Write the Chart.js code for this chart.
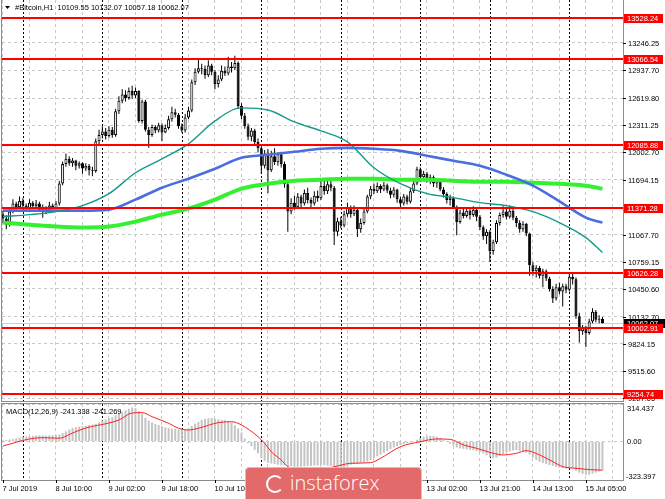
<!DOCTYPE html>
<html>
<head>
<meta charset="utf-8">
<script src="https://cdn.jsdelivr.net/npm/chart.js@4.4.1/dist/chart.umd.min.js"></script>
<style>
  html, body { margin: 0; padding: 0; background: #fff; }
  #wrap { position: relative; width: 665px; height: 499px; overflow: hidden; }
  #priceChart { position: absolute; left: 0; top: 0; }
  #macdChart { position: absolute; left: 0; top: 402px; }
  #logo { position: absolute; left: 245px; top: 467px; width: 177px; height: 40px; box-sizing: border-box;
          background: #e26a6a; border: 1px solid #f2b4b4; border-radius: 4px; }
  #logo .ring { position: absolute; left: 20px; top: 7px; width: 14px; height: 14px; border: 2px solid #fff;
                border-right-color: transparent; border-radius: 50%; }
  #logo span { position: absolute; left: 44px; top: 1px; font: 300 20px "Open Sans"; color: #fff; }
</style>
</head>
<body>
<div id="wrap">
  <canvas id="priceChart" width="665" height="402"></canvas>
  <canvas id="macdChart" width="665" height="97"></canvas>
  <div id="logo"><div class="ring"></div><span>instaforex</span></div>
</div>
<script>
// Bitcoin H1, 182 bars (7 Jul 18:00 .. 15 Jul 10:00)
const tickLabels = ["7 Jul 2019", "8 Jul 10:00", "9 Jul 02:00", "9 Jul 18:00", "10 Jul 10:00", "11 Jul 02:00",
  "11 Jul 18:00", "12 Jul 10:00", "13 Jul 02:00", "13 Jul 21:00", "14 Jul 13:00", "15 Jul 05:00"];
const tickBars = [0, 16, 32, 48, 64, 80, 96, 112, 128, 144, 160, 176];
const daySeparators = [6, 30, 54, 78, 102, 126, 147, 171];
const priceTicks = [13246.25, 12937.70, 12619.80, 12311.25, 12002.70, 11694.15, 11067.70, 10759.15,
  10450.60, 10132.70, 9824.15, 9515.60, 9207.05];
const levels = [13528.24, 13066.54, 12085.88, 11371.28, 10626.28, 10002.91, 9254.74];
const lastPrice = 10062.07;

const open = [
  11300, 11250, 11180, 11330, 11420, 11380, 11450, 11400, 11360, 11430,
  11390, 11420, 11350, 11380, 11340, 11400, 11370, 11420, 11650, 11870,
  11930, 11880, 11910, 11850, 11880, 11820, 11850, 11800, 11790, 12130,
  12200, 12240, 12190, 12260, 12200, 12470, 12590, 12660, 12620, 12700,
  12650, 12700, 12360, 12580, 12260, 12200, 12290, 12250, 12310, 12230,
  12280, 12380, 12460, 12430, 12300, 12250, 12400, 12480, 12800, 12920,
  12960, 12950, 12880, 12990, 12920, 12780, 12830, 12930, 12900, 12980,
  12960, 13020, 12530, 12420, 12300, 12180, 12250, 12120, 12050, 11850,
  11990, 11800, 11960, 11890, 11980, 11870, 11640, 11330, 11430, 11380,
  11500, 11420, 11540, 11460, 11420, 11510, 11480, 11620, 11560, 11640,
  11600, 11100, 11220, 11170, 11300, 11380, 11300, 11350, 11130, 11200,
  11330, 11500, 11590, 11560, 11620, 11580, 11630, 11570, 11520, 11580,
  11470, 11420, 11500, 11440, 11560, 11650, 11810, 11720, 11760, 11690,
  11720, 11650, 11680, 11580, 11530, 11460, 11480, 11380, 11210, 11320,
  11280, 11340, 11290, 11350, 11270, 11150, 11050, 11100, 10880, 10980,
  11200, 11290, 11330, 11270, 11340, 11260, 11200, 11130, 11190, 11080,
  10720, 10650, 10690, 10600, 10650, 10570, 10450, 10340, 10470, 10420,
  10480, 10440, 10590, 10560, 10140, 9970, 10010, 9950, 10080, 10190,
  10100, 10109.55];
const high = [
  11340, 11290, 11360, 11470, 11440, 11500, 11480, 11420, 11470, 11450,
  11460, 11440, 11410, 11390, 11440, 11420, 11450, 11680, 11900, 11990,
  11960, 11940, 11920, 11900, 11890, 11880, 11870, 11840, 12160, 12260,
  12300, 12280, 12300, 12290, 12500, 12640, 12720, 12710, 12740, 12760,
  12740, 12710, 12600, 12600, 12290, 12320, 12310, 12340, 12330, 12320,
  12420, 12520, 12500, 12450, 12330, 12440, 12520, 12830, 12960, 13060,
  13010, 12990, 13050, 13010, 12940, 12880, 12990, 12980, 13090, 13030,
  13100, 13040, 12560, 12450, 12330, 12280, 12270, 12160, 12090, 12030,
  12040, 12020, 12050, 12000, 12010, 11900, 11660, 11480, 11510, 11540,
  11520, 11580, 11600, 11490, 11560, 11570, 11680, 11690, 11700, 11680,
  11620, 11260, 11270, 11340, 11430, 11400, 11400, 11360, 11250, 11360,
  11520, 11620, 11650, 11660, 11640, 11670, 11650, 11600, 11610, 11590,
  11500, 11530, 11520, 11600, 11700, 11840, 11830, 11790, 11780, 11750,
  11740, 11710, 11700, 11610, 11550, 11520, 11500, 11400, 11350, 11370,
  11380, 11360, 11390, 11370, 11290, 11170, 11130, 11120, 11010, 11230,
  11320, 11390, 11360, 11400, 11370, 11280, 11230, 11220, 11200, 11090,
  10760, 10720, 10710, 10680, 10670, 10590, 10480, 10510, 10520, 10510,
  10510, 10640, 10630, 10580, 10180, 10040, 10030, 10110, 10230, 10210,
  10150, 10132.07];
const low = [
  11200, 11130, 11160, 11310, 11350, 11360, 11380, 11330, 11340, 11370,
  11360, 11330, 11260, 11300, 11320, 11350, 11360, 11400, 11630, 11840,
  11850, 11840, 11800, 11820, 11760, 11790, 11740, 11730, 11770, 12090,
  12160, 12150, 12170, 12170, 12180, 12440, 12560, 12580, 12600, 12610,
  12620, 12340, 12330, 12240, 12055, 12180, 12220, 12230, 12130, 12220,
  12260, 12350, 12400, 12270, 12230, 12230, 12380, 12460, 12770, 12900,
  12890, 12840, 12860, 12880, 12720, 12740, 12810, 12870, 12880, 12910,
  12940, 12500, 12380, 12270, 12140, 12130, 12080, 12000, 11760, 11820,
  11540, 11780, 11860, 11850, 11830, 11600, 11100, 11300, 11350, 11360,
  11380, 11400, 11420, 11370, 11400, 11440, 11460, 11520, 11530, 11560,
  10950, 11050, 11140, 11150, 11270, 11260, 11280, 11040, 11090, 11180,
  11310, 11470, 11530, 11540, 11540, 11560, 11540, 11480, 11490, 11430,
  11370, 11400, 11410, 11420, 11540, 11630, 11690, 11680, 11660, 11640,
  11610, 11600, 11560, 11490, 11420, 11400, 11360, 11060, 11190, 11250,
  11260, 11240, 11270, 11220, 11120, 11010, 10960, 10760, 10840, 10960,
  11170, 11260, 11240, 11250, 11230, 11150, 11090, 11100, 11050, 10600,
  10600, 10580, 10570, 10470, 10540, 10420, 10290, 10320, 10390, 10250,
  10400, 10420, 10500, 10110, 9840, 9930, 9790, 9930, 10060, 10070,
  10060, 10057.18];
const close = [
  11250, 11180, 11330, 11420, 11380, 11450, 11400, 11360, 11430, 11390,
  11420, 11350, 11380, 11340, 11400, 11370, 11420, 11650, 11870, 11930,
  11880, 11910, 11850, 11880, 11820, 11850, 11800, 11790, 12130, 12200,
  12240, 12190, 12260, 12200, 12470, 12590, 12660, 12620, 12700, 12650,
  12700, 12360, 12580, 12260, 12200, 12290, 12250, 12310, 12230, 12280,
  12380, 12460, 12430, 12300, 12250, 12400, 12480, 12800, 12920, 12960,
  12950, 12880, 12990, 12920, 12780, 12830, 12930, 12900, 12980, 12960,
  13020, 12530, 12420, 12300, 12180, 12250, 12120, 12050, 11850, 11990,
  11800, 11960, 11890, 11980, 11870, 11640, 11330, 11430, 11380, 11500,
  11420, 11540, 11460, 11420, 11510, 11480, 11620, 11560, 11640, 11600,
  11100, 11220, 11170, 11300, 11380, 11300, 11350, 11130, 11200, 11330,
  11500, 11590, 11560, 11620, 11580, 11630, 11570, 11520, 11580, 11470,
  11420, 11500, 11440, 11560, 11650, 11810, 11720, 11760, 11690, 11720,
  11650, 11680, 11580, 11530, 11460, 11480, 11380, 11210, 11320, 11280,
  11340, 11290, 11350, 11270, 11150, 11050, 11100, 10880, 10980, 11200,
  11290, 11330, 11270, 11340, 11260, 11200, 11130, 11190, 11080, 10720,
  10650, 10690, 10600, 10650, 10570, 10450, 10340, 10470, 10420, 10480,
  10440, 10590, 10560, 10140, 9970, 10010, 9950, 10080, 10190, 10100,
  10110, 10062.07];

// moving averages, read every 8 bars
const maBars = [0, 8, 16, 24, 32, 40, 48, 56, 64, 72, 80, 88, 96, 104, 112, 120, 128, 136, 144, 152, 160, 168, 176, 181];
const maTeal = [11272, 11295, 11329, 11397, 11533, 11771, 11930, 12100, 12360, 12508, 12485, 12349,
  12247, 12122, 11828, 11646, 11533, 11488, 11431, 11397, 11329, 11204, 11034, 10864];
const maBlue = [11340, 11340, 11340, 11340, 11352, 11465, 11601, 11703, 11816, 11941, 11975, 12009,
  12043, 12054, 12043, 12020, 11964, 11907, 11850, 11748, 11624, 11446, 11261, 11204];
const maGreen = [11204, 11181, 11159, 11148, 11159, 11215, 11295, 11363, 11465, 11590, 11646, 11680,
  11692, 11703, 11703, 11692, 11692, 11680, 11669, 11669, 11658, 11646, 11624, 11590];

// MACD(12,26,9)
const macdHist = [
  8, 12, 16, 20, 26, 32, 38, 42, 45, 48,
  50, 52, 50, 48, 50, 52, 54, 58, 70, 85,
  100, 112, 120, 125, 128, 132, 138, 142, 148, 160,
  175, 185, 195, 205, 220, 235, 250, 262, 275, 285,
  280, 255, 230, 200, 175, 160, 148, 138, 128, 118,
  112, 108, 104, 100, 98, 100, 110, 130, 150, 165,
  180, 188, 195, 198, 190, 185, 180, 178, 170, 160,
  135, 110, 75, 25, -15, -40, -70, -100, -140, -165,
  -180, -185, -190, -195, -198, -200, -205, -208, -210, -212,
  -210, -208, -205, -205, -202, -200, -198, -200, -203, -205,
  -212, -220, -225, -215, -205, -195, -188, -185, -182, -178,
  -168, -155, -140, -125, -110, -95, -80, -65, -50, -40,
  -30, -22, -15, -8, 0, 15, 30, 40, 45, 48,
  45, 40, 30, 15, -5, -20, -35, -50, -58, -62,
  -66, -70, -74, -80, -88, -100, -115, -130, -140, -135,
  -120, -105, -92, -82, -75, -72, -78, -85, -95, -110,
  -135, -155, -170, -180, -190, -198, -205, -212, -220, -225,
  -228, -225, -228, -245, -262, -272, -278, -278, -270, -262,
  -252, -241.338];
const signalBars = [0, 8, 12, 17, 21, 25, 32, 35, 39, 42, 45, 50, 53, 56, 59, 65, 69, 72, 77, 79, 81, 84, 86,
  90, 95, 101, 105, 111, 114, 120, 126, 131, 135, 139, 143, 148, 151, 155, 158, 162, 166, 169, 173, 177, 181];
const signalVals = [-38, 21, 32, 27, 71, 113, 155, 180, 239, 242, 208, 153, 111, 96, 111, 158, 166, 138, 40, -15,
  -86, -155, -211, -232, -238, -206, -183, -178, -141, -44, -2, 21, 18, -29, -57, -99, -113, -99, -77, -113,
  -169, -211, -225, -236, -241.269];
const macdMax = 314.437, macdMin = -323.397;

const FONT = '7.5px "Liberation Sans"';
const xMin = -0.3, xMax = 187.2;
const gridTicks = [];
for (let b = 0; b <= 184; b += 8) gridTicks.push({ value: b });

function xScale(showGrid) {
  return {
    type: "linear", min: xMin, max: xMax, offset: false,
    afterBuildTicks: s => { s.ticks = gridTicks.slice(); },
    afterFit: s => { s.height = showGrid; },
    ticks: { display: false },
    grid: { display: true, color: "#c9c9c9", drawTicks: false, offset: false },
    border: { display: false, dash: [3, 3] },
  };
}

function drawSeparators(chart) {
  const { ctx, chartArea: a, scales: { x } } = chart;
  ctx.save();
  ctx.strokeStyle = "#000";
  ctx.lineWidth = 1;
  ctx.setLineDash([2, 2]);
  daySeparators.forEach(b => {
    const px = Math.round(x.getPixelForValue(b)) + 0.5;
    ctx.beginPath(); ctx.moveTo(px, a.top); ctx.lineTo(px, a.bottom); ctx.stroke();
  });
  ctx.restore();
}

function drawFrame(chart) {
  const { ctx, chartArea: a } = chart;
  ctx.save();
  ctx.strokeStyle = "#8c8c8c";
  ctx.lineWidth = 1;
  ctx.strokeRect(a.left - 0.5, a.top - 0.5, a.right - a.left + 1, a.bottom - a.top + 1);
  ctx.restore();
}

const priceDecor = {
  id: "priceDecor",
  beforeDatasetsDraw(chart) {
    const { ctx, chartArea: a, scales: { y } } = chart;
    ctx.save();
    ctx.strokeStyle = "#cfcfcf";
    const by = Math.round(y.getPixelForValue(lastPrice)) + 0.5;
    ctx.beginPath(); ctx.moveTo(a.left, by); ctx.lineTo(a.right, by); ctx.stroke();
    ctx.restore();
    drawSeparators(chart);
  },
  afterDatasetsDraw(chart) {
    const { ctx, chartArea: a, scales: { y } } = chart;
    ctx.save();
    ctx.strokeStyle = "#ff0000";
    ctx.lineWidth = 2;
    levels.forEach(v => {
      const py = Math.round(y.getPixelForValue(v));
      ctx.beginPath(); ctx.moveTo(a.left, py); ctx.lineTo(a.right, py); ctx.stroke();
    });
    ctx.restore();
  },
  afterDraw(chart) {
    const { ctx, chartArea: a, scales: { y } } = chart;
    drawFrame(chart);
    ctx.save();
    ctx.font = FONT;
    ctx.textBaseline = "middle";
    ctx.textAlign = "left";
    ctx.fillStyle = "#000";
    ctx.strokeStyle = "#000";
    priceTicks.forEach(v => {
      const py = Math.round(y.getPixelForValue(v)) + 0.5;
      ctx.beginPath(); ctx.moveTo(a.right, py); ctx.lineTo(a.right + 3, py); ctx.stroke();
      ctx.fillText(v.toFixed(2), a.right + 5, py);
    });
    // current price
    let py = y.getPixelForValue(lastPrice);
    ctx.fillStyle = "#000";
    ctx.fillRect(a.right + 1, Math.round(py) - 4, 42, 9);
    ctx.fillStyle = "#fff";
    ctx.fillText(lastPrice.toFixed(2), a.right + 4, Math.round(py) + 0.5);
    // level labels
    levels.forEach(v => {
      py = Math.round(y.getPixelForValue(v));
      ctx.fillStyle = "#ff0000";
      ctx.fillRect(a.right + 1, py - 4, 39, 9);
      ctx.fillStyle = "#fff";
      ctx.fillText(v.toFixed(2), a.right + 4, py + 0.5);
    });
    // title
    ctx.fillStyle = "#000";
    ctx.beginPath(); ctx.moveTo(5, 6); ctx.lineTo(10, 6); ctx.lineTo(7.5, 9); ctx.closePath(); ctx.fill();
    ctx.fillText("#Bitcoin,H1  10109.55 10132.07 10057.18 10062.07", 15, 8);
    ctx.restore();
  }
};

const macdDecor = {
  id: "macdDecor",
  beforeDatasetsDraw(chart) { drawSeparators(chart); },
  afterDraw(chart) {
    const { ctx, chartArea: a, scales: { x, y } } = chart;
    drawFrame(chart);
    ctx.save();
    ctx.font = FONT;
    ctx.fillStyle = "#000";
    ctx.strokeStyle = "#000";
    ctx.textAlign = "left";
    ctx.textBaseline = "middle";
    ctx.fillText("MACD(12,26,9) -241.338 -241.269", 6, a.top + 8);
    ctx.textBaseline = "top";
    ctx.fillText(macdMax.toFixed(3), a.right + 4, a.top + 1);
    ctx.textBaseline = "middle";
    ctx.fillText("0.00", a.right + 4, Math.round(y.getPixelForValue(0)) + 0.5);
    ctx.textBaseline = "bottom";
    ctx.fillText(macdMin.toFixed(3), a.right + 3, a.bottom + 1);
    ctx.textBaseline = "middle";
    tickBars.forEach((b, i) => {
      const px = Math.round(x.getPixelForValue(b)) + 0.5;
      ctx.beginPath(); ctx.moveTo(px, a.bottom); ctx.lineTo(px, a.bottom + 3); ctx.stroke();
      ctx.fillText(tickLabels[i], px - 1, a.bottom + 9);
    });
    ctx.restore();
  }
};

const bars = close.map((c, i) => i);

new Chart(document.getElementById("priceChart").getContext("2d"), {
  type: "bar",
  data: {
    datasets: [
      { type: "line", data: maTeal.map((v, i) => ({ x: maBars[i], y: v })), borderColor: "#14998c",
        borderWidth: 1.4, pointRadius: 0, cubicInterpolationMode: "monotone", order: 0 },
      { type: "line", data: maBlue.map((v, i) => ({ x: maBars[i], y: v })), borderColor: "#4a6ee0",
        borderWidth: 2.6, pointRadius: 0, cubicInterpolationMode: "monotone", order: 0 },
      { type: "line", data: maGreen.map((v, i) => ({ x: maBars[i], y: v })), borderColor: "#33f033",
        borderWidth: 4, pointRadius: 0, cubicInterpolationMode: "monotone", order: 0 },
      { data: bars.map(i => ({ x: i, y: [low[i], high[i]] })), backgroundColor: "#000",
        barThickness: 1, grouped: false, inflateAmount: 0, order: 2 },
      { data: bars.map(i => ({ x: i, y: [open[i], close[i]] })),
        backgroundColor: ctx => close[ctx.dataIndex] >= open[ctx.dataIndex] ? "#fff" : "#000",
        borderColor: "#000", borderWidth: 1, borderSkipped: false, barThickness: 3,
        grouped: false, inflateAmount: 0, order: 1 },
    ],
  },
  options: {
    responsive: false,
    animation: false,
    devicePixelRatio: 1,
    events: [],
    layout: { padding: { left: 2, right: 0, top: 0, bottom: 1 } },
    plugins: { legend: { display: false }, tooltip: { enabled: false } },
    scales: {
      x: xScale(0),
      y: {
        type: "linear", position: "right", min: 9176, max: 13735,
        afterBuildTicks: s => { s.ticks = priceTicks.map(v => ({ value: v })); },
        afterFit: s => { s.width = 42; },
        ticks: { display: false },
        grid: { color: "#c9c9c9", drawTicks: false },
        border: { display: false, dash: [3, 3] },
      },
    },
  },
  plugins: [priceDecor],
});

new Chart(document.getElementById("macdChart").getContext("2d"), {
  type: "bar",
  data: {
    datasets: [
      { type: "line", data: signalVals.map((v, i) => ({ x: signalBars[i], y: v })), borderColor: "#ff2020",
        borderWidth: 1, pointRadius: 0, cubicInterpolationMode: "monotone", order: 0 },
      { data: macdHist.map((v, i) => ({ x: i, y: v })), backgroundColor: "#c4c4c4",
        barThickness: 2, inflateAmount: 0, order: 1 },
    ],
  },
  options: {
    responsive: false,
    animation: false,
    devicePixelRatio: 1,
    events: [],
    layout: { padding: { left: 2, right: 0, top: 2, bottom: 0 } },
    plugins: { legend: { display: false }, tooltip: { enabled: false } },
    scales: {
      x: xScale(19),
      y: {
        type: "linear", position: "right", min: macdMin, max: macdMax,
        afterBuildTicks: s => { s.ticks = [macdMin, 0, macdMax].map(v => ({ value: v })); },
        afterFit: s => { s.width = 42; },
        ticks: { display: false },
        grid: { color: "#c9c9c9", drawTicks: false },
        border: { display: false, dash: [3, 3] },
      },
    },
  },
  plugins: [macdDecor],
});
</script>
</body>
</html>
